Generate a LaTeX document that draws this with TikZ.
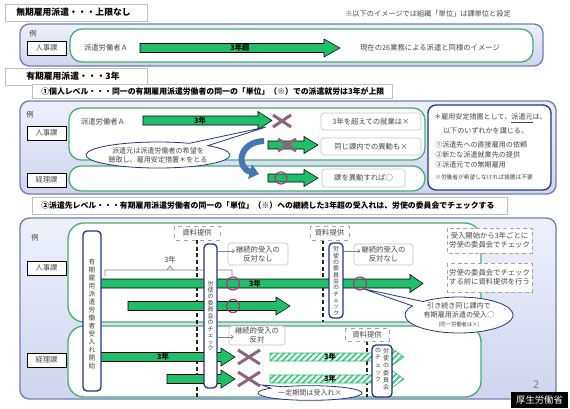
\documentclass[tikz,border=0pt]{standalone}
\usepackage{fontspec}
\setmainfont{Noto Sans CJK JP}
\usetikzlibrary{arrows.meta,shapes.callouts,patterns.meta}

\definecolor{lavline}{RGB}{115,125,180}
\definecolor{lavtop}{RGB}{238,240,250}
\definecolor{lavbot}{RGB}{208,213,238}
\definecolor{grnline}{RGB}{70,175,115}
\definecolor{grnfill}{RGB}{32,190,105}
\definecolor{xcol}{RGB}{140,100,125}
\definecolor{ringcol}{RGB}{170,55,120}
\definecolor{navy}{RGB}{35,55,125}
\definecolor{arcblue}{RGB}{70,118,180}
\definecolor{txtgray}{RGB}{70,70,70}

\tikzset{
  lavbox/.style={draw=lavline,line width=1pt,rounded corners=7pt,top color=lavtop,bottom color=lavbot},
  grnbox/.style={draw=grnline,line width=1pt,rounded corners=9pt,fill=white},
  hdbox/.style={draw=gray!50,fill=white,line width=0.5pt},
  deptbox/.style={fill=white},
  garr/.style={fill=grnfill},
  hatcharr/.style={draw=grnfill,line width=0.4pt,preaction={fill=white},
    pattern={Lines[angle=45,distance=3.2pt,line width=1.3pt]},pattern color=grnfill!85},
  xmark/.style={draw=xcol,line width=2.2pt},
  okring/.style={draw=ringcol,line width=0.9pt},
  tallbox/.style={draw=navy,line width=1pt,rounded corners=3pt,fill=white},
  datalbl/.style={draw=gray!70,dashed,fill=white,line width=0.4pt},
  graybox/.style={draw=gray!45,fill=white,rounded corners=2pt,line width=0.5pt},
  dashbox/.style={draw=gray!70,dash pattern=on 3pt off 2pt,fill=white,line width=0.5pt},
  cutline/.style={draw=black!85,line width=0.8pt,dash pattern=on 3pt off 2pt},
  smallarr/.style={draw=gray,line width=0.4pt,-{To[length=2pt,width=3pt]}},
  ttl/.style={inner sep=0.75pt,font=\bfseries\fontsize{6.6}{8}\selectfont},
  sub/.style={inner sep=0.75pt,font=\bfseries\fontsize{5.9}{7}\selectfont},
  lbl/.style={inner sep=0.75pt,text=txtgray,font=\fontsize{5.5}{6.8}\selectfont,align=center},
  note/.style={inner sep=0.75pt,text=txtgray,font=\fontsize{5.4}{6}\selectfont},
  num/.style={inner sep=0.75pt,font=\bfseries\fontsize{5.5}{6}\selectfont},
  info/.style={inner sep=0.75pt,text=txtgray,font=\fontsize{5.3}{6.4}\selectfont},
  vtext/.style={inner sep=0pt,text=txtgray,align=center},
  bubble/.style={ellipse callout,draw=navy,line width=0.6pt,fill=white,inner sep=0pt,
    text=txtgray,align=center,callout pointer arc=18}
}

\begin{document}
\begin{tikzpicture}[x=0.75pt,y=0.75pt,yscale=-1,xscale=1]
\useasboundingbox (0,0) rectangle (570,408);

% ---- section 1
\draw[hdbox] (5,4) -- (147,4) -- (147,21) -- (5,21) -- cycle ;
\draw (15,12.5) node [ttl,anchor=west] (ttlA) {無期雇用派遣・・・上限なし};
\draw (512,14) node [note,anchor=east] (noteA) {※以下のイメージでは組織「単位」は課単位と設定};
\draw[lavbox] (20,24) rectangle (543,66);
\draw[grnbox] (70,29) rectangle (533,62);
\draw (33,34) node [lbl] (reiA) {例};
\draw[deptbox] (27,41) rectangle (66,55);
\draw (46.5,48) node [lbl] (jinjiA) {人事課};
\draw (106,48) node [lbl] (workerA) {派遣労働者Ａ};
\draw[garr] (140,43.5) -- (324,43.5) -- (324,39) -- (340,48) -- (324,57) -- (324,52.5) -- (140,52.5) -- cycle ;
\draw (240,48) node [num] (yrA) {3年超};
\draw (430,48) node [lbl] (imageA) {現在の26業務による派遣と同様のイメージ};

% ---- section 2 (1)
\draw[hdbox] (5,68) -- (147,68) -- (147,85) -- (5,85) -- cycle ;
\draw (25,76.5) node [ttl,anchor=west] (ttlB) {有期雇用派遣・・・3年};
\draw[hdbox] (32,84) -- (392,84) -- (392,98) -- (32,98) -- cycle ;
\draw (40,91) node [sub,anchor=west] (subB) {①個人レベル・・・同一の有期雇用派遣労働者の同一の「単位」（※）での派遣就労は3年が上限};
\draw[lavbox] (20,101) rectangle (556,194);
\draw[grnbox] (69,108) rectangle (425,160);
\draw[grnbox] (69,166) rectangle (425,191);
\draw (30,115) node [lbl] (reiB) {例};
\draw[deptbox] (27,126) rectangle (66,140);
\draw (46.5,133) node [lbl] (jinjiB) {人事課};
\draw[deptbox] (27,173) rectangle (66,187);
\draw (46.5,180) node [lbl] (keiriB) {経理課};
\draw (103,122) node [lbl] (workerB) {派遣労働者Ａ};

\draw[garr] (143,116) -- (258,116) -- (258,111.5) -- (272,120.5) -- (258,129.5) -- (258,125) -- (143,125) -- cycle ;
\draw (200,120.5) node [num] (yrB) {3年};
\draw[garr] (268,141) -- (304,141) -- (304,136.5) -- (318,145) -- (304,153.5) -- (304,149) -- (268,149) -- cycle ;
\draw[garr] (268,174) -- (304,174) -- (304,169.5) -- (318,178) -- (304,186.5) -- (304,182) -- (268,182) -- cycle ;
\draw[xmark] (273,115) -- (291,127) (273,127) -- (291,115) ;
\draw[xmark] (278,139) -- (296,151) (278,151) -- (296,139) ;
\draw[okring] (281,178) circle (6) ;
\draw[arcblue,line width=4.5pt,-{Triangle[length=7pt,width=11pt]}] (264,141) .. controls (238,142) and (236,168) .. (259,174) ;

\coordinate (tipB) at (266,127);
\draw (158,155) node [bubble,minimum width=108pt,minimum height=19.5pt,callout absolute pointer={(tipB)},font=\fontsize{5.3}{6.6}\selectfont] (hopeB) {派遣元は派遣労働者の希望を\\聴取し、雇用安定措置＊をとる};

\draw[graybox] (321,113) rectangle (421,130);
\draw (371,121.5) node [lbl] (overB) {3年を超えての就業は×};
\draw[graybox] (321,138) rectangle (421,155);
\draw (371,146.5) node [lbl] (sameB) {同じ課内での異動も×};
\draw[graybox] (322,169) rectangle (405,187);
\draw (363.5,178) node [lbl] (moveB) {課を異動すれば○};

\draw[draw=navy,line width=1pt,rounded corners=6pt,fill=white] (428,105) rectangle (551,190);
\draw (433,118) node [info,anchor=west] (infoA) {＊雇用安定措置として、\underline{派遣元}は、};
\draw (442,130.5) node [info,anchor=west] (infoB) {以下のいずれかを講じる。};
\draw (434,145) node [info,anchor=west] (infoC) {①派遣先への直接雇用の依頼};
\draw (434,155) node [info,anchor=west] (infoD) {②新たな派遣就業先の提供};
\draw (434,165) node [info,anchor=west] (infoE) {③派遣元での無期雇用};
\draw (434,177.5) node [info,anchor=west,font=\fontsize{4.3}{5}\selectfont] (infoF) {※労働者が希望しなければ措置は不要};

% ---- section 2 (2)
\draw[hdbox] (32,197) -- (507,197) -- (507,214) -- (32,214) -- cycle ;
\draw (40,205.5) node [sub,anchor=west] (subC) {②派遣先レベル・・・有期雇用派遣労働者の同一の「単位」（※）への継続した3年超の受入れは、労使の委員会でチェックする};
\draw[lavbox] (20,218) rectangle (556,399);
\draw[grnbox,rounded corners=12pt] (68,223) rectangle (481,322);
\draw[grnbox,rounded corners=12pt] (68,326) rectangle (481,397);
\draw (35,238) node [lbl] (reiC) {例};
\draw[deptbox] (27,261) rectangle (66,275);
\draw (46.5,268) node [lbl] (jinjiC) {人事課};
\draw[deptbox] (27,353) rectangle (66,367);
\draw (46.5,360) node [lbl] (keiriC) {経理課};

\draw[cutline] (197,240) -- (197,397) ;
\draw[cutline] (323,240) -- (323,322) ;
\draw[cutline] (367,341) -- (367,397) ;
\draw[datalbl] (174,226) rectangle (220,240);
\draw (197,233) node [lbl] (dataA) {資料提供};
\draw[datalbl] (310,226) rectangle (349,240);
\draw (329.5,233) node [lbl] (dataB) {資料提供};
\draw[datalbl] (345,328) rectangle (389,341);
\draw (367,334.5) node [lbl] (dataC) {資料提供};

\draw[gray,line width=0.5pt] (105,276) -- (105,270) -- (232,270) -- (232,276) (167,270) -- (170,266) -- (173,270) ;
\draw (170,260) node [lbl] (spanC) {3年};

\draw[garr] (93,279) -- (410,279) -- (410,274.5) -- (423,283.5) -- (410,292.5) -- (410,288) -- (93,288) -- cycle ;
\draw (255,283.5) node [num] (yrC) {3年};
\draw[garr] (128,301.5) -- (276,301.5) -- (276,297) -- (290,306) -- (276,315) -- (276,310.5) -- (128,310.5) -- cycle ;
\draw[garr] (93,352.5) -- (221,352.5) -- (221,348) -- (235,357) -- (221,366) -- (221,361.5) -- (93,361.5) -- cycle ;
\draw (163,357) node [num] (yrD) {3年};
\draw[garr] (167,374.5) -- (221,374.5) -- (221,370) -- (235,379) -- (221,388) -- (221,383.5) -- (167,383.5) -- cycle ;
\draw[hatcharr] (270,353) -- (392,353) -- (392,348.5) -- (404,357) -- (392,365.5) -- (392,361) -- (270,361) -- cycle ;
\draw (330,357) node [num] (yrE) {3年};
\draw[hatcharr] (270,375) -- (392,375) -- (392,370.5) -- (404,379) -- (392,387.5) -- (392,383) -- (270,383) -- cycle ;
\draw (330,379) node [num] (yrF) {3年};

\draw[tallbox] (83,231) rectangle (101,391);
\draw (92,314) node [vtext,font=\fontsize{5}{6.05}\selectfont] (startC) {有\\期\\雇\\用\\派\\遣\\労\\働\\者\\受\\入\\れ\\開\\始};
\draw[tallbox] (204,244) rectangle (217,388);
\draw (210.5,316) node [vtext,font=\fontsize{4.5}{4.85}\selectfont] (checkA) {労\\使\\の\\委\\員\\会\\の\\チ\\ェ\\ッ\\ク};
\draw[tallbox] (329,243) rectangle (343,318);
\draw (336,281) node [vtext,font=\fontsize{4.5}{4.75}\selectfont] (checkB) {労\\使\\の\\委\\員\\会\\の\\チ\\ェ\\ッ\\ク};
\draw[tallbox] (372,345) rectangle (392,397);
\draw (386,348) node [vtext,anchor=north,font=\fontsize{4.5}{5.5}\selectfont] (checkC) {労\\使\\の\\委\\員\\会};
\draw (378,348) node [vtext,anchor=north,font=\fontsize{4.5}{5.5}\selectfont] (checkD) {の\\チ\\ェ\\ッ\\ク};

\draw[okring] (233,283.5) circle (6.5) ;
\draw[okring] (360,283.5) circle (6.5) ;
\draw[okring] (233,306) circle (6.5) ;
\draw[xmark] (238,350) -- (260,364) (238,364) -- (260,350) ;
\draw[xmark] (238,372) -- (260,386) (238,386) -- (260,372) ;

\draw[graybox] (228,243) rectangle (288,265);
\draw (258,254) node [lbl] (noObjA) {継続的受入の\\反対なし};
\draw[graybox] (354,244) rectangle (413,265);
\draw (383.5,254.5) node [lbl] (noObjB) {継続的受入の\\反対なし};
\draw[graybox] (229,326) rectangle (285,345);
\draw (257,335.5) node [lbl] (objC) {継続的受入の\\反対};
\coordinate (outA) at (218,251);
\coordinate (outB) at (344,251);
\coordinate (outC) at (218,337);
\draw[smallarr] (outA) -- (noObjA.west |- outA) ;
\draw[smallarr] (outB) -- (noObjB.west |- outB) ;
\draw[smallarr] (outC) -- (objC.west |- outC) ;

\draw[dashbox] (447,228) rectangle (532,253);
\draw (489.5,240.5) node [lbl] (ruleA) {受入開始から3年ごとに\\労使の委員会でチェック};
\draw[dashbox] (447,263) rectangle (532,292);
\draw (489.5,277.5) node [lbl] (ruleB) {労使の委員会でチェック\\する前に資料提供を行う};

\coordinate (tipC) at (364,289);
\draw (459,315) node [bubble,minimum width=81pt,minimum height=27pt,callout absolute pointer={(tipC)},font=\fontsize{5.3}{6.6}\selectfont] (againC) {引き続き同じ課内で\\有期雇用派遣の受入○\\{\fontsize{4}{5}\selectfont (同一労働者は×)}};
\coordinate (tipD) at (262,385);
\draw (310,393) node [bubble,minimum width=78pt,minimum height=11pt,callout absolute pointer={(tipD)},font=\fontsize{5.3}{6}\selectfont] (periodD) {一定期間は受入れ×};

\draw (536,385) node [lbl,text=gray,font=\fontsize{8}{9}\selectfont] (pageNo) {2};
\fill[black] (511,392) rectangle (568,408);
\draw (539.5,400) node [inner sep=0.75pt,text=white,font=\fontsize{7}{8}\selectfont] (mhlw) {厚生労働省};

\end{tikzpicture}
\end{document}
